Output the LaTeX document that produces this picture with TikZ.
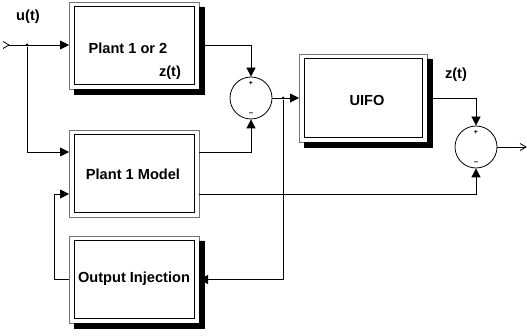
\documentclass[tikz,border=0pt]{standalone}
\usepackage{fontspec}
\setmainfont{Liberation Sans}
\usetikzlibrary{arrows.meta,calc}
\begin{document}
\begin{tikzpicture}[x=1pt,y=-1pt,
  font=\fontsize{14.6}{16}\selectfont\bfseries,
  blk/.style={draw=black!55,line width=0.9pt,fill=white,minimum width=130pt,minimum height=87pt,inner sep=0pt,outer sep=0pt},
  shadowfill/.style={fill=black,draw=black,line width=0.4pt},
  sumn/.style={circle,draw,line width=0.8pt,minimum size=42pt,inner sep=0pt},
  wire/.style={line width=0.8pt},
  arr/.style={wire,-{Triangle[length=9pt,width=9pt]}},
  dot/.style={circle,fill,inner sep=0pt,minimum size=3pt},
  sgn/.style={font=\fontsize{8}{9}\selectfont\bfseries,inner sep=0pt}]
\useasboundingbox (0,0) rectangle (527,336);
% blocks
\node[blk] (P12) at (134,45.5) {};
\node[blk] (PM) at (134,173.5) {};
\node[blk] (OI) at (134,279.5) {};
\node[blk,minimum width=128pt,minimum height=88pt] (UI) at (363,98) {};
% shadows (right and bottom strips)
\foreach \b in {P12,OI,UI}
  \path[shadowfill] ([xshift=0.5pt,yshift=-5pt]\b.north east) -- ([xshift=5pt,yshift=-5pt]\b.north east)
     -- ([xshift=5pt,yshift=-5pt]\b.south east) -- ([xshift=5pt,yshift=-5pt]\b.south west)
     -- ([xshift=5pt,yshift=-0.5pt]\b.south west) -- ([xshift=0.5pt,yshift=-0.5pt]\b.south east) -- cycle;
% inner frames
\foreach \b in {P12,PM,OI,UI}
  \draw[line width=0.9pt] ([xshift=5pt,yshift=-4.5pt]\b.north west) rectangle ([xshift=-5pt,yshift=4.5pt]\b.south east);
% texts
\node (tP12) at (128,48) {Plant 1 or 2};
\node (zP) at (170,73) {z(t)};
\node (tPM) at (133,174) {Plant 1 Model};
\node (tOI) at (134,279) {Output Injection};
\node (tUI) at (367,100) {UIFO};
\node (zU) at (456,75) {z(t)};
\node (ut) at (28,17) {u(t)};
% sums
\node[sumn] (S1) at (251,98) {};
\node[sumn] (S2) at (476,147) {};
\node[sgn,font=\fontsize{7}{8}\selectfont\bfseries] (p1) at (251,83) {+};
\node[sgn] (m1) at (251,114.5) {–};
\node[sgn,font=\fontsize{7}{8}\selectfont\bfseries] (p2) at (476,132) {+};
\node[sgn] (m2) at (476,163.5) {–};
% input
\coordinate (in) at (9,45);
\draw[wire] (3,41.5) -- (in) -- (3,48.5);
\node[dot] (j1) at (27,45) {};
\draw[arr] (in) -- (P12.west |- in);
\draw[arr] (j1) |- ([yshift=21.5pt]PM.west);
% plant outputs to sum 1
\draw[arr] (P12.east) -| (S1.north);
\draw[arr] ([yshift=21.5pt]PM.east) -| (S1.south);
% sum1 to UIFO
\draw[arr] (S1.east) -- (UI.west);
\node[dot] (j2) at (283,98) {};
\draw[arr] (j2) |- (OI.east);
% UIFO to sum2
\draw[arr] (UI.east) -| (S2.north);
\draw[arr] ([yshift=-20.5pt]PM.east) -| (S2.south);
% feedback
\draw[arr] (OI.west) -- ++(-15,0) |- ([yshift=-20.5pt]PM.west);
% output
\coordinate (out) at (526,147);
\draw[wire] (S2.east) -- (out);
\draw[wire] (520,143.5) -- (out) -- (520,150.5);
\end{tikzpicture}
\end{document}
